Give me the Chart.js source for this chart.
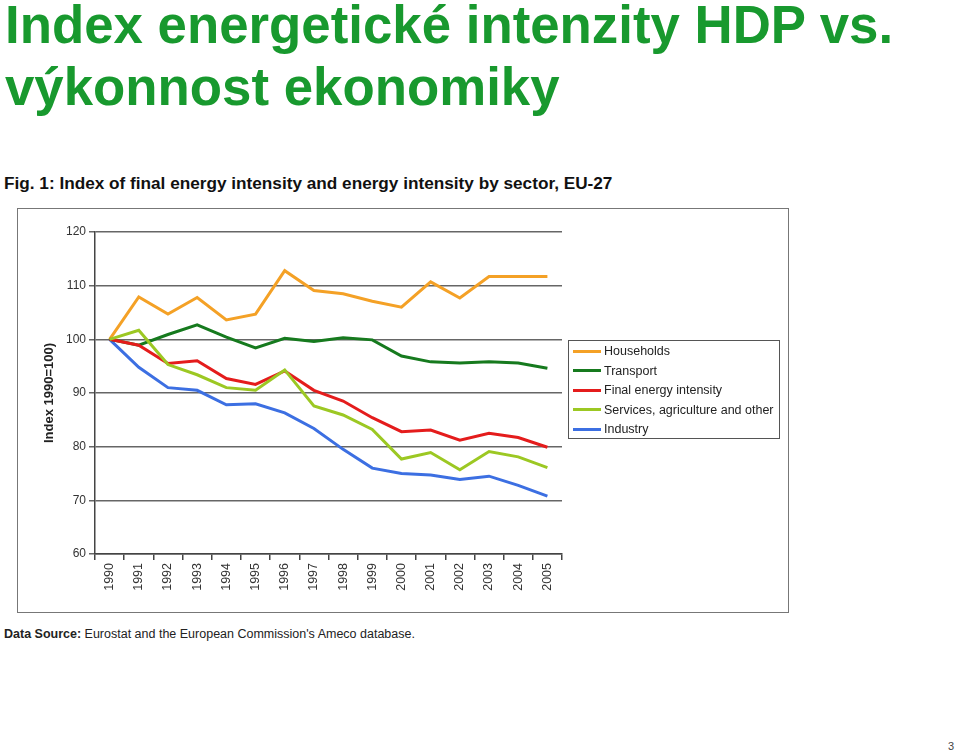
<!DOCTYPE html>
<html><head>
<meta charset="utf-8">
<style>
  body {
    margin: 0;
    width: 960px;
    height: 754px;
    background: #fff;
    font-family: "Liberation Sans", Arial, sans-serif;
    position: relative;
    overflow: hidden;
  }
  h1 {
    position: absolute;
    left: 5px;
    top: -6px;
    margin: 0;
    font-size: 52.8px;
    line-height: 62px;
    font-weight: bold;
    color: #18992e;
  }
  .fig {
    position: absolute;
    left: 4px;
    top: 173px;
    font-size: 17.2px;
    font-weight: bold;
    color: #111;
  }
  .box {
    position: absolute;
    left: 17px;
    top: 208px;
    width: 770px;
    height: 403px;
    border: 1px solid #777;
  }
  #chart { position: absolute; left: 0; top: 0; }
  .legend {
    position: absolute;
    left: 550px;
    top: 131px;
    width: 210px;
    height: 97px;
    border: 1px solid #555;
    font-size: 12.5px;
    color: #222;
  }
  .legend-item {
    position: absolute;
    left: 4px;
    height: 16px;
    display: flex;
    align-items: center;
  }
  .legend-line {
    width: 28px;
    height: 3px;
    margin-right: 3px;
  }
  .source {
    position: absolute;
    left: 4px;
    top: 627px;
    font-size: 12.5px;
    color: #222;
  }
  .page {
    position: absolute;
    left: 948px;
    top: 740px;
    font-size: 11px;
    color: #444;
  }
</style>
<script src="https://cdn.jsdelivr.net/npm/chart.js"></script>
</head>
<body>
<h1>Index energetické intenzity HDP vs.<br>výkonnost ekonomiky</h1>
<div class="fig">Fig. 1: Index of final energy intensity and energy intensity by sector, EU-27</div>
<div class="box">
  <canvas id="chart" width="770" height="403"></canvas>
  <div class="legend" id="legend"></div>
</div>
<div class="source"><b>Data Source:</b> Eurostat and the European Commission's Ameco database.</div>
<div class="page">3</div>

<script>
const years = ['1990','1991','1992','1993','1994','1995','1996','1997','1998','1999','2000','2001','2002','2003','2004','2005'];

const households = [100, 107.9, 104.7, 107.8, 103.6, 104.7, 112.8, 109.1, 108.5, 107.1, 106.0, 110.7, 107.7, 111.7, 111.7, 111.7];
const transport  = [100, 98.9, 100.9, 102.7, 100.4, 98.4, 100.2, 99.6, 100.3, 99.9, 96.9, 95.8, 95.6, 95.8, 95.6, 94.6];
const finalIntensity = [100, 98.9, 95.5, 96.0, 92.7, 91.6, 94.1, 90.5, 88.5, 85.4, 82.8, 83.1, 81.2, 82.5, 81.7, 79.9];
const services = [100, 101.7, 95.3, 93.4, 91.0, 90.5, 94.3, 87.6, 85.9, 83.2, 77.7, 78.9, 75.7, 79.1, 78.1, 76.1];
const industry = [100, 94.8, 91.0, 90.5, 87.8, 88.0, 86.3, 83.4, 79.5, 76.0, 75.0, 74.7, 73.9, 74.5, 72.8, 70.8];

const seriesNames = ['Households', 'Transport', 'Final energy intensity', 'Services, agriculture and other', 'Industry'];
const seriesColors = ['#f4a126', '#167a1e', '#e41c1c', '#9cc823', '#3c6fe2'];
const seriesData = [households, transport, finalIntensity, services, industry];

const yTicks = [60, 70, 80, 90, 100, 110, 120];

// legend built from the same arrays
const legend = document.getElementById('legend');
seriesNames.forEach((name, i) => {
  const item = document.createElement('div');
  item.className = 'legend-item';
  item.style.top = (2 + i * 19.6) + 'px';
  item.innerHTML = '<div class="legend-line" style="background:' + seriesColors[i] + '"></div><span>' + name + '</span>';
  legend.appendChild(item);
});

const ctx = document.getElementById('chart').getContext('2d');
new Chart(ctx, {
  type: 'line',
  data: {
    labels: years,
    datasets: seriesData.map((d, i) => ({
      label: seriesNames[i],
      data: d,
      borderColor: seriesColors[i],
      backgroundColor: seriesColors[i],
      borderWidth: 3,
      pointRadius: 0,
      tension: 0,
      order: i === 4 ? 5 : (i === 3 ? 1 : 5 - i)
    }))
  },
  options: {
    responsive: false,
    animation: false,
    layout: { padding: { top: 23, right: 226, left: 0, bottom: 0 } },
    plugins: { legend: { display: false }, tooltip: { enabled: false } },
    scales: {
      x: {
        offset: true,
        grid: {
          offset: true,
          drawOnChartArea: false,
          drawTicks: true,
          tickLength: 6,
          color: '#444',
          lineWidth: 1.5
        },
        border: { color: '#444', width: 1.5 },
        ticks: {
          color: '#333',
          font: { family: 'Liberation Sans', size: 12.5 },
          minRotation: 90,
          maxRotation: 90,
          autoSkip: false,
          padding: 3
        },
        afterFit: s => { s.height = 58; }
      },
      y: {
        min: 60,
        max: 120,
        afterBuildTicks: s => { s.ticks = yTicks.map(v => ({ value: v })); },
        grid: {
          color: '#666',
          lineWidth: 1.5,
          tickLength: 6
        },
        border: { color: '#444', width: 1.5 },
        ticks: {
          color: '#333',
          font: { family: 'Liberation Sans', size: 12 },
          padding: 3
        },
        title: {
          display: true,
          text: 'Index 1990=100)',
          color: '#222',
          font: { family: 'Liberation Sans', size: 13, weight: 'bold' },
          padding: { top: 24, bottom: 0 }
        },
        afterFit: s => { s.width = 77; }
      }
    }
  }
});
</script>
</body></html>
